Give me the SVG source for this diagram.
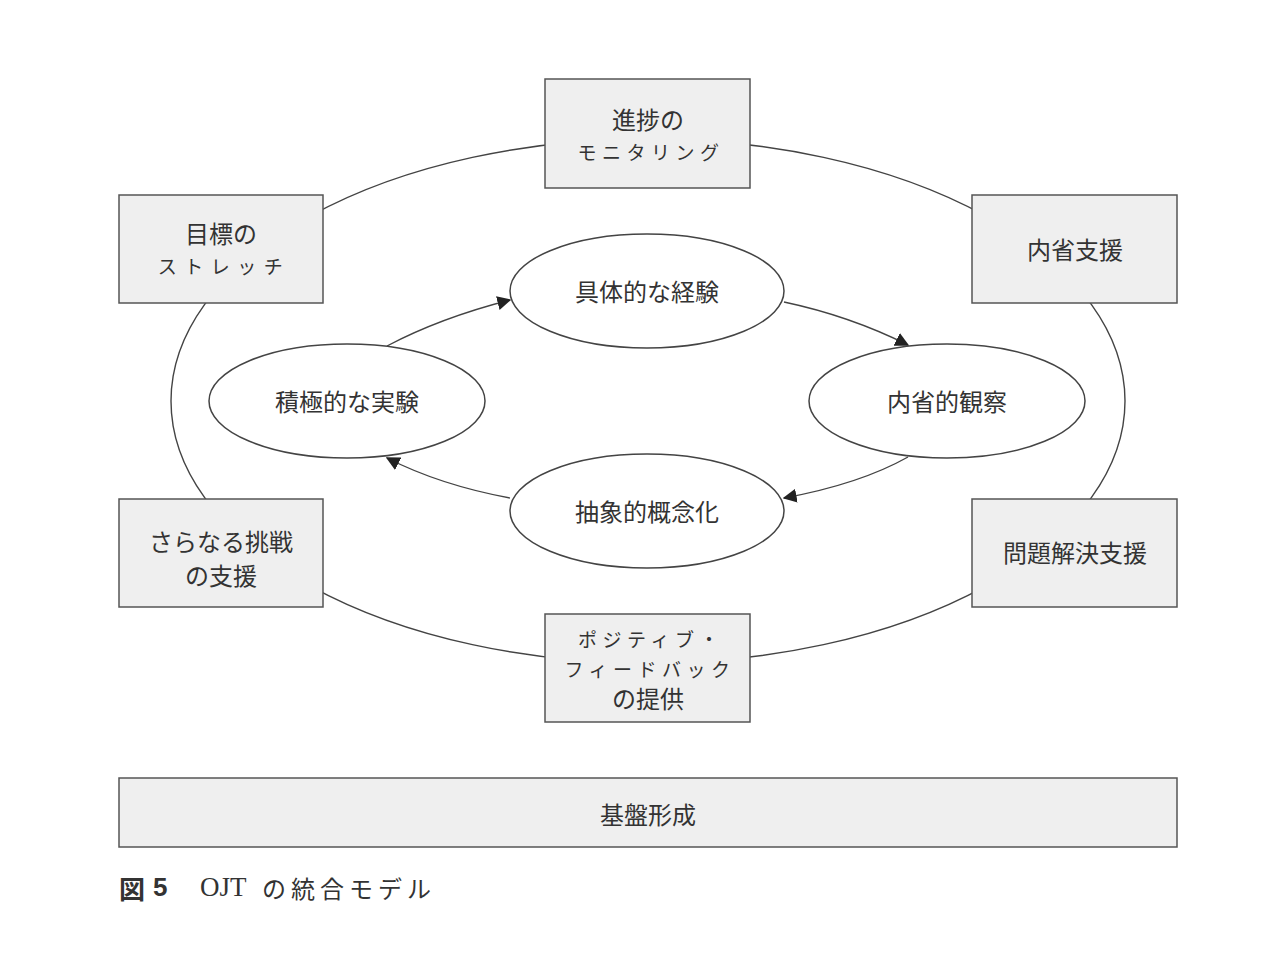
<svg xmlns="http://www.w3.org/2000/svg" width="1280" height="962" viewBox="0 0 1280 962">
<defs>
<marker id="ah" viewBox="0 0 10 10" refX="9" refY="5" markerWidth="14" markerHeight="14" markerUnits="userSpaceOnUse" orient="auto">
<path d="M0,0 L10,5 L0,10 z" fill="#222"/>
</marker>
<style>
.box{fill:#efefef;stroke:#555;stroke-width:1.5}
.ell{fill:#fff;stroke:#444;stroke-width:1.5}
.ring{fill:none;stroke:#444;stroke-width:1.4}
.con{fill:none;stroke:#444;stroke-width:1.4;marker-end:url(#ah)}
.t{font-family:"Noto Sans CJK JP","Noto Sans",sans-serif;font-size:24px;fill:#333;text-anchor:middle;dominant-baseline:central}
.k{font-family:"Noto Sans CJK JP","Noto Sans",sans-serif;font-size:19px;fill:#333;text-anchor:middle;dominant-baseline:central;letter-spacing:5.5px}
.cap{font-family:"Liberation Serif","Noto Sans CJK JP",serif;font-size:27px;fill:#333;dominant-baseline:central}
</style>
</defs>
<rect width="1280" height="962" fill="#fff"/>
<g id="ring">
<ellipse class="ring" cx="648" cy="401" rx="477" ry="262"/>
</g>
<g id="connectors">
<path class="con" d="M387,346 Q440,318 510,300"/>
<path class="con" d="M784,302 Q850,316 908,345"/>
<path class="con" d="M908,457 Q860,484 784,498"/>
<path class="con" d="M510,498 Q440,485 387,458"/>
</g>
<g id="n-monitor"><rect class="box" x="545" y="79" width="205" height="109"/>
<text class="t" x="648" y="118">進捗の</text><text class="k" x="651" y="151">モニタリング</text></g>
<g id="n-stretch"><rect class="box" x="119" y="195" width="204" height="108"/>
<text class="t" x="221" y="232">目標の</text><text class="k" x="224" y="265" style="letter-spacing:7.5px">ストレッチ</text></g>
<g id="n-reflect-support"><rect class="box" x="972" y="195" width="205" height="108"/>
<text class="t" x="1075" y="248">内省支援</text></g>
<g id="n-challenge"><rect class="box" x="119" y="499" width="204" height="108"/>
<text class="t" x="221" y="540">さらなる挑戦</text><text class="t" x="221" y="574">の支援</text></g>
<g id="n-problem"><rect class="box" x="972" y="499" width="205" height="108"/>
<text class="t" x="1075" y="551">問題解決支援</text></g>
<g id="n-feedback"><rect class="box" x="545" y="614" width="205" height="108"/>
<text class="k" x="651" y="638">ポジティブ・</text><text class="k" x="650" y="668">フィードバック</text><text class="t" x="648" y="697">の提供</text></g>
<g id="n-concrete"><ellipse class="ell" cx="647" cy="291" rx="137" ry="57"/><text class="t" x="647" y="290">具体的な経験</text></g>
<g id="n-active"><ellipse class="ell" cx="347" cy="401" rx="138" ry="57"/><text class="t" x="347" y="400">積極的な実験</text></g>
<g id="n-reflective"><ellipse class="ell" cx="947" cy="401" rx="138" ry="57"/><text class="t" x="947" y="400">内省的観察</text></g>
<g id="n-abstract"><ellipse class="ell" cx="647" cy="511" rx="137" ry="57"/><text class="t" x="647" y="510">抽象的概念化</text></g>
<g id="n-base"><rect class="box" x="119" y="778" width="1058" height="69"/><text class="t" x="648" y="813">基盤形成</text></g>
<g id="caption">
<text class="cap" x="119" y="887" style="font-family:'Noto Sans CJK JP',sans-serif;font-weight:bold;font-size:26px">図</text>
<text class="cap" x="153" y="887" style="font-family:'Liberation Sans',sans-serif;font-weight:bold;font-size:26px">5</text>
<text class="cap" x="200" y="887">OJT</text>
<text class="cap" x="262" y="887" style="font-family:'Noto Sans CJK JP',sans-serif;font-size:24px;letter-spacing:5px">の統合モデル</text>
</g>
</svg>
